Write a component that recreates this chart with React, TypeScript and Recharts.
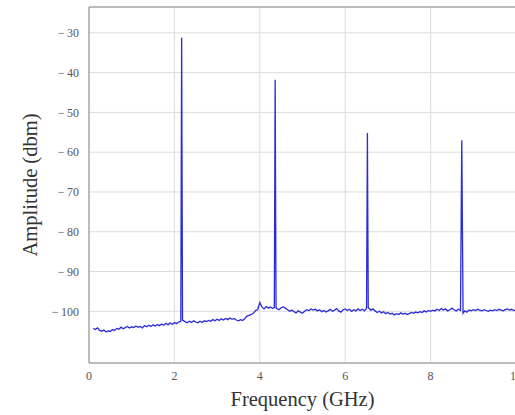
import React from "react";
import { LineChart, Line, XAxis, YAxis, CartesianGrid, ReferenceArea } from "recharts";

const freqGHz: number[] = [
  0.10, 0.15, 0.20, 0.25, 0.30, 0.35, 0.40, 0.45, 0.50, 0.55, 0.60, 0.65, 0.70, 0.75, 0.80, 0.85, 0.90, 0.95,
  1.00, 1.05, 1.10, 1.15, 1.20, 1.25, 1.30, 1.35, 1.40, 1.45, 1.50, 1.55, 1.60, 1.65, 1.70, 1.75, 1.80, 1.85, 1.90, 1.95,
  2.00, 2.05, 2.10, 2.15, 2.17, 2.19, 2.25, 2.30, 2.35, 2.40, 2.45, 2.50, 2.55, 2.60, 2.65, 2.70, 2.75, 2.80, 2.85, 2.90, 2.95,
  3.00, 3.05, 3.10, 3.15, 3.20, 3.25, 3.30, 3.35, 3.40, 3.45, 3.50, 3.55, 3.60, 3.65, 3.70, 3.75, 3.80, 3.85, 3.90, 3.95,
  4.00, 4.05, 4.10, 4.15, 4.20, 4.25, 4.30, 4.34, 4.36, 4.38, 4.45, 4.50, 4.55, 4.60, 4.65, 4.70, 4.75, 4.80, 4.85, 4.90, 4.95,
  5.00, 5.05, 5.10, 5.15, 5.20, 5.25, 5.30, 5.35, 5.40, 5.45, 5.50, 5.55, 5.60, 5.65, 5.70, 5.75, 5.80, 5.85, 5.90, 5.95,
  6.00, 6.05, 6.10, 6.15, 6.20, 6.25, 6.30, 6.35, 6.40, 6.45, 6.50, 6.52, 6.54, 6.60, 6.65, 6.70, 6.75, 6.80, 6.85, 6.90, 6.95,
  7.00, 7.05, 7.10, 7.15, 7.20, 7.25, 7.30, 7.35, 7.40, 7.45, 7.50, 7.55, 7.60, 7.65, 7.70, 7.75, 7.80, 7.85, 7.90, 7.95,
  8.00, 8.05, 8.10, 8.15, 8.20, 8.25, 8.30, 8.35, 8.40, 8.45, 8.50, 8.55, 8.60, 8.65, 8.70, 8.73, 8.76, 8.80, 8.85, 8.90, 8.95,
  9.00, 9.05, 9.10, 9.15, 9.20, 9.25, 9.30, 9.35, 9.40, 9.45, 9.50, 9.55, 9.60, 9.65, 9.70, 9.75, 9.80, 9.85, 9.90, 9.95, 10.00,
];

const amplitudeDbm: number[] = [
  -104.3, -104.6, -104.2, -104.8, -105.0, -104.7, -105.2, -104.9, -105.1, -104.6, -104.8, -104.3, -104.5, -104.0, -104.4, -104.1, -103.8, -104.2,
  -103.9, -104.1, -103.7, -104.0, -103.8, -104.2, -103.6, -103.9, -103.5, -103.8, -103.4, -103.7, -103.3, -103.6, -103.2, -103.5, -103.0, -103.4, -102.9, -103.3,
  -102.8, -103.1, -102.7, -102.5, -31.2, -102.2, -102.6, -102.9, -102.5, -102.8, -102.4, -102.7, -102.9, -102.5, -102.8, -102.4, -102.6, -102.3, -102.5, -102.1, -102.4,
  -102.0, -102.3, -101.9, -102.2, -101.8, -102.1, -101.7, -102.0, -101.8, -102.2, -102.4, -102.1, -102.3, -101.8, -101.2, -101.0, -100.8, -100.5, -99.8, -99.6,
  -97.8, -98.9, -99.4, -98.8, -99.2, -98.9, -99.3, -99.0, -41.8, -99.2, -99.6, -99.1, -98.9, -99.2, -99.6, -100.0, -99.7, -100.1, -100.4, -99.9, -100.2,
  -100.5, -100.0, -99.6, -99.8, -99.4, -99.7, -99.5, -99.9, -99.6, -100.1, -99.8, -100.2, -99.9, -99.5, -100.0, -99.7, -99.3, -99.9, -100.2, -99.6,
  -99.4, -99.8, -99.5, -100.0, -99.6, -99.9, -99.4, -99.8, -99.5, -99.9, -99.3, -55.2, -99.1, -99.7, -99.4, -99.9, -100.3, -100.0, -100.4, -100.1, -100.6,
  -100.3, -100.7, -100.5, -100.9, -100.6, -100.8, -100.4, -100.7, -100.5, -100.8, -100.6, -100.3, -100.5, -100.2, -100.4, -100.1, -100.3, -99.9, -100.2, -99.8,
  -100.0, -99.7, -99.9, -99.5, -99.8, -99.3, -99.7, -99.4, -99.9, -99.6, -99.2, -99.6, -99.9, -99.5, -99.8, -57.0, -100.5, -99.9, -100.2, -99.7, -99.9,
  -99.6, -99.8, -99.5, -99.7, -99.9, -99.6, -99.8, -100.0, -99.7, -99.9, -99.6, -99.8, -99.5, -99.7, -99.9, -99.6, -99.4, -99.7, -99.5, -99.8, -99.6,
];

const xTicks: number[] = [0, 2, 4, 6, 8, 10];
const yTicks: number[] = [-100, -90, -80, -70, -60, -50, -40, -30];

const data = freqGHz.map((f, i) => ({ f, a: amplitudeDbm[i] }));

const fontFamily = "'Liberation Serif', 'DejaVu Serif', serif";
const fmt = (v: number) => String(v).replace("-", "\u2212\u2009");

export default function App() {
  return (
    <div style={{ position: "absolute", left: 0, top: 0, width: 515, height: 415, overflow: "hidden", background: "#fff" }}>
      <LineChart width={530} height={415} data={data} margin={{ top: 7, right: 14, bottom: 22, left: 9 }}>
        <CartesianGrid stroke="#dcdcdc" strokeWidth={1} />
        <XAxis
          dataKey="f"
          type="number"
          domain={[0, 10]}
          ticks={xTicks}
          height={30}
          axisLine={false}
          tickLine={false}
          tick={{ fontFamily, fontSize: 12, fill: "#555" }}
          tickFormatter={fmt}
          label={{ value: "Frequency (GHz)", position: "bottom", offset: -2, style: { fontFamily, fontSize: 20.5, fill: "#333" } }}
        />
        <YAxis
          type="number"
          domain={[-113, -23.5]}
          ticks={yTicks}
          width={80}
          axisLine={false}
          tickLine={false}
          tick={{ fontFamily, fontSize: 12, fill: "#555", dx: -2 }}
          tickFormatter={fmt}
          label={{ value: "Amplitude (dbm)", angle: -90, position: "center", dx: -19, style: { fontFamily, fontSize: 20.5, fill: "#333", textAnchor: "middle" } }}
        />
        <ReferenceArea x1={0} x2={10} y1={-113} y2={-23.5} fill="none" stroke="#8a8a8a" strokeWidth={1} />
        <Line
          type="linear"
          dataKey="a"
          stroke="#2b2bd8"
          strokeWidth={1.3}
          dot={false}
          isAnimationActive={false}
        />
      </LineChart>
    </div>
  );
}
